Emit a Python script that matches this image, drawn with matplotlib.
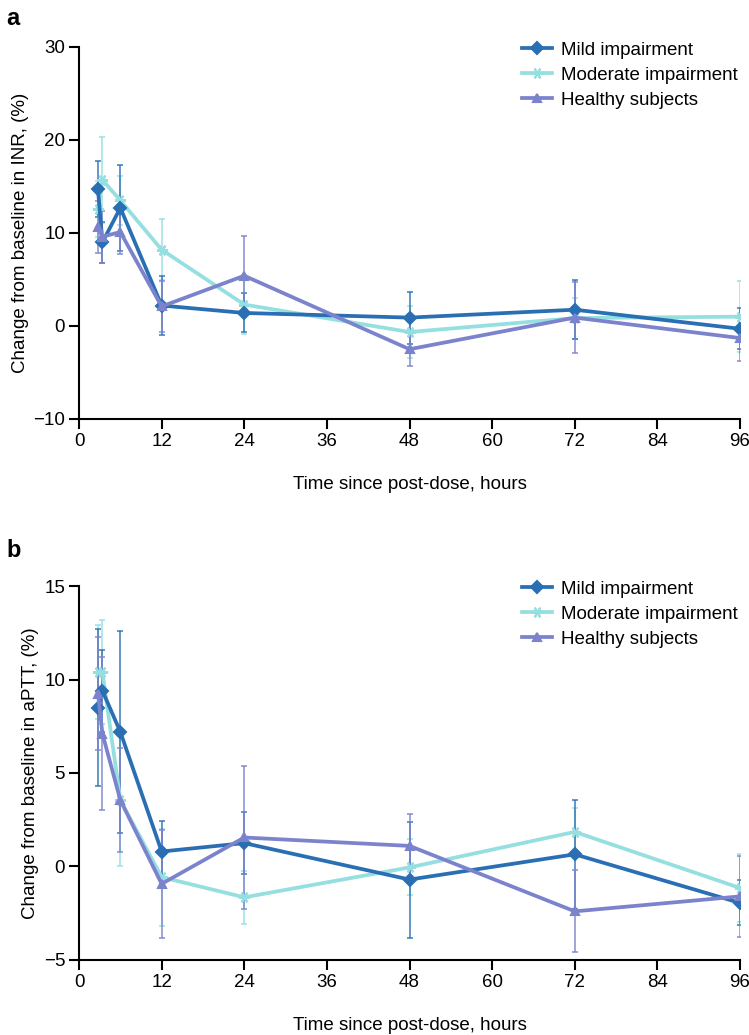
import matplotlib.pyplot as plt

plt.rcParams['font.family'] = ['Liberation Sans', 'DejaVu Sans']

# sampling times (hours post-dose)
hours = [2.75, 3.4, 6, 12, 24, 48, 72, 96]

# panel a: change from baseline in INR (%)
inr_mild = [14.7, 9.0, 12.7, 2.2, 1.4, 0.9, 1.75, -0.3]
inr_mild_err = [3.0, 2.2, 4.6, 3.2, 2.1, 2.8, 3.2, 2.2]
inr_moderate = [12.6, 15.7, 13.5, 8.2, 2.3, -0.65, 0.85, 1.0]
inr_moderate_err = [3.0, 4.6, 2.6, 3.3, 3.2, 2.8, 2.2, 3.8]
inr_healthy = [10.6, 9.6, 10.1, 2.1, 5.4, -2.5, 0.9, -1.3]
inr_healthy_err = [2.8, 2.8, 2.4, 2.7, 4.3, 1.8, 3.8, 2.5]

# panel b: change from baseline in aPTT (%)
aptt_mild = [8.5, 9.4, 7.2, 0.8, 1.25, -0.7, 0.65, -1.95]
aptt_mild_err = [4.2, 2.2, 5.4, 1.65, 1.65, 3.1, 2.9, 1.2]
aptt_moderate = [10.4, 10.4, 3.55, -0.57, -1.65, -0.05, 1.85, -1.15]
aptt_moderate_err = [2.5, 2.8, 3.55, 2.6, 1.4, 1.5, 1.3, 1.8]
aptt_healthy = [9.25, 7.1, 3.55, -0.93, 1.55, 1.1, -2.4, -1.6]
aptt_healthy_err = [3.0, 4.1, 2.8, 2.9, 3.85, 1.7, 2.2, 2.15]

labels = ['Mild impairment', 'Moderate impairment', 'Healthy subjects']
colors = ['#2a6fb3', '#95dfe0', '#7b83cc']
markers = ['D', (6, 2, 90), '^']
fs = 13.5


def draw(ax, series, ylim, yticks, ylabel):
    for i in [1, 0, 2]:
        y, err = series[i]
        ax.errorbar(hours, y, yerr=err, fmt='none', ecolor=colors[i],
                    elinewidth=1.2, capsize=2.5, capthick=1.2, alpha=0.85, zorder=2)
    handles = []
    for i in [1, 0, 2]:
        y, err = series[i]
        h, = ax.plot(hours, y, color=colors[i], lw=2.7, marker=markers[i],
                     ms=6 if i != 1 else 8, mew=1.5, label=labels[i], zorder=3)
        handles.append((i, h))
    handles.sort()
    ax.legend([h for _, h in handles], labels, loc='upper right',
              bbox_to_anchor=(1.022, 1.06), frameon=False, fontsize=fs,
              handlelength=1.6, handletextpad=0.5, labelspacing=0.42)
    ax.set_xlim(0, 96)
    ax.set_xticks(range(0, 97, 12))
    ax.set_ylim(*ylim)
    ax.set_yticks(yticks)
    ax.set_xlabel('Time since post-dose, hours', fontsize=fs, labelpad=19)
    ax.set_ylabel(ylabel, fontsize=fs, labelpad=3)
    ax.spines['top'].set_visible(False)
    ax.spines['right'].set_visible(False)
    for s in ['left', 'bottom']:
        ax.spines[s].set_linewidth(1.5)
    ax.tick_params(width=1.5, length=7, labelsize=fs, direction='out', pad=3)


fig = plt.figure(figsize=(7.49, 10.35), dpi=100)
ax1 = fig.add_axes([0.1055, 0.5952, 0.8825, 0.3594])
ax2 = fig.add_axes([0.1055, 0.0725, 0.8825, 0.3613])

draw(ax1, [(inr_mild, inr_mild_err), (inr_moderate, inr_moderate_err),
           (inr_healthy, inr_healthy_err)],
     (-10, 30), [-10, 0, 10, 20, 30], 'Change from baseline in INR, (%)')
draw(ax2, [(aptt_mild, aptt_mild_err), (aptt_moderate, aptt_moderate_err),
           (aptt_healthy, aptt_healthy_err)],
     (-5, 15), [-5, 0, 5, 10, 15], 'Change from baseline in aPTT, (%)')

fig.text(0.008, 0.982, 'a', fontsize=17, fontweight='bold', va='center')
fig.text(0.008, 0.468, 'b', fontsize=17, fontweight='bold', va='center')

plt.savefig('out.png', dpi=100)
plt.close(fig)
